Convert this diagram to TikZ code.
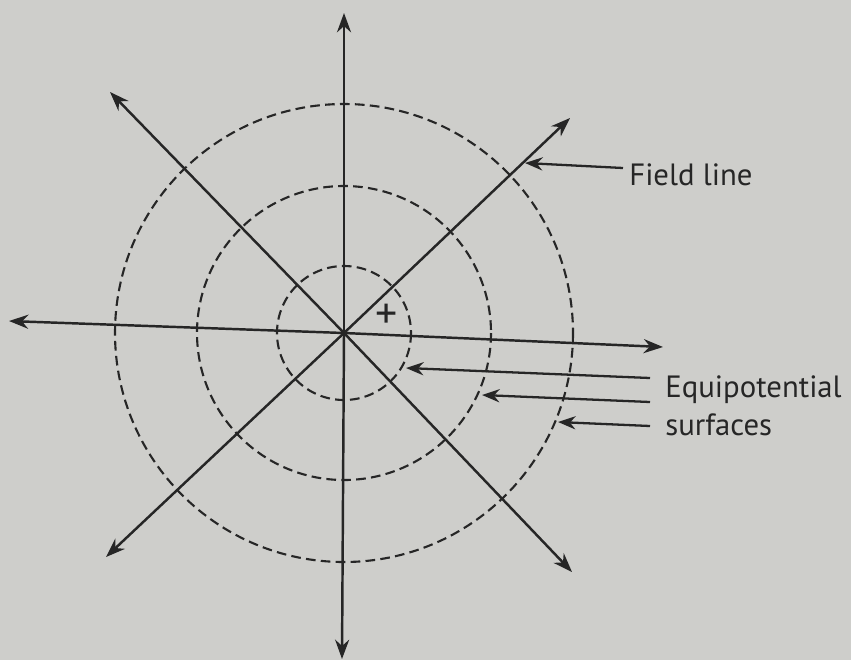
\documentclass[tikz,border=0pt]{standalone}
\usepackage{fontspec}
\setsansfont{PT Sans}
\usetikzlibrary{arrows.meta,positioning}
\definecolor{cPaper}{RGB}{206,206,203}
\definecolor{cInk}{RGB}{38,38,38}
\tikzset{
  fieldarr/.style={-{Stealth[length=11pt,width=8pt]},line width=1.4pt,draw=cInk},
  equicirc/.style={draw=cInk,line width=1.2pt,dash pattern=on 5.5pt off 3pt},
  lblarr/.style={-{Stealth[length=10pt,width=7.5pt]},line width=1.3pt,draw=cInk},
  lbltext/.style={font=\sffamily\fontsize{17.5}{21.5}\selectfont,text=cInk,
                  inner sep=0pt,anchor=west,align=left}
}
\begin{document}
\begin{tikzpicture}[x=0.02cm,y=-0.02cm]

  \fill[cPaper] (0,0) rectangle (851,660);
  \useasboundingbox (0,0) rectangle (851,660);

  \coordinate (O) at (344,333);

  % equipotential surfaces
  \foreach \r in {67,147,229}
    \draw[equicirc] (O) circle[radius=\r];

  % field lines
  \foreach \x/\y in {110/92,570/118,106/557,572/572,344/13,342/659,9/321,663/347}
    \draw[fieldarr] (O) -- (\x,\y);

  \node[font=\sffamily\fontsize{25}{25}\selectfont,text=cInk,inner sep=0pt] (plus) at (387,316) {+};

  % labels
  \node[lbltext] (fieldlbl) at (629,175) {Field line};
  \node[lbltext] (equilbl) at (665,406) {Equipotential\\surfaces};

  \coordinate (fl) at (525,163);
  \coordinate (eq1) at (406,368);
  \coordinate (eq2) at (482,395);
  \coordinate (eq3) at (558,422);

  \draw[lblarr] ([shift={(-6,-7)}]fieldlbl.west) -- (fl);
  \draw[lblarr] ([shift={(-15,-28)}]equilbl.west) -- (eq1);
  \draw[lblarr] ([shift={(-15,-4)}]equilbl.west) -- (eq2);
  \draw[lblarr] ([shift={(-15,20)}]equilbl.west) -- (eq3);

\end{tikzpicture}
\end{document}
